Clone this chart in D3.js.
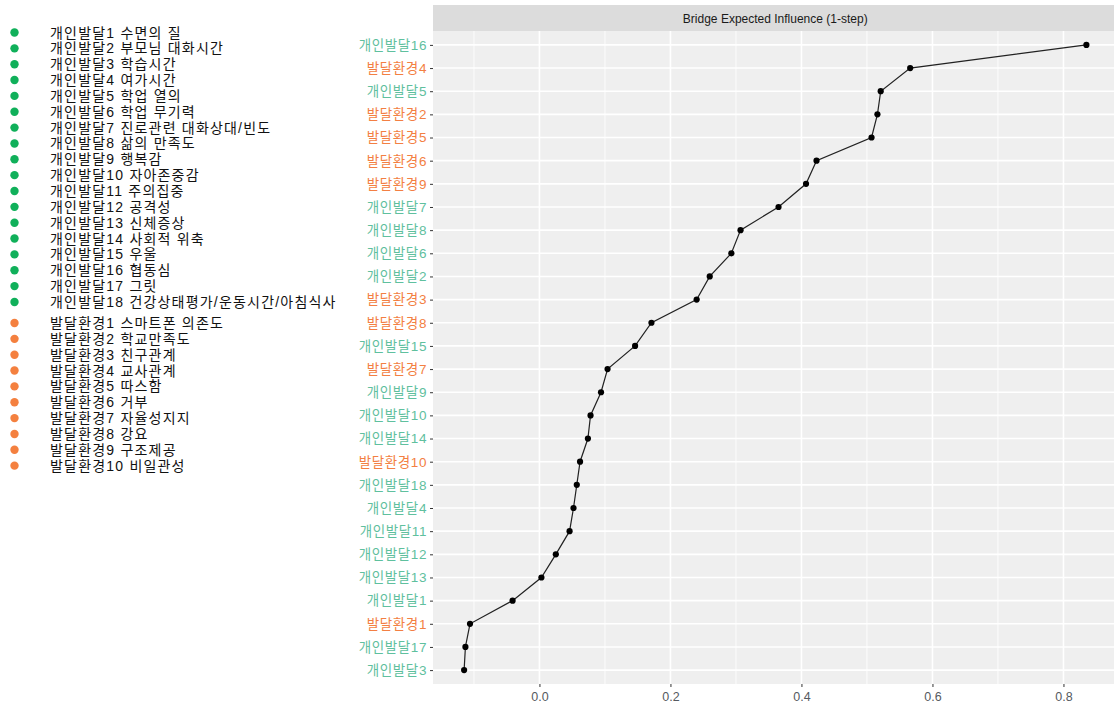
<!DOCTYPE html>
<html>
<head>
<meta charset="utf-8">
<script src="https://cdn.jsdelivr.net/npm/d3@7"></script>
<style>
  html, body { margin: 0; padding: 0; background: #ffffff; }
  svg { display: block; }
</style>
</head>
<body>
<svg id="chart" width="1114" height="709"></svg>
<script>
// Nodes in plotted order (top to bottom), sorted by bridge expected influence
const nodes = [
  "개인발달16", "발달환경4", "개인발달5", "발달환경2", "발달환경5", "발달환경6",
  "발달환경9", "개인발달7", "개인발달8", "개인발달6", "개인발달2", "발달환경3",
  "발달환경8", "개인발달15", "발달환경7", "개인발달9", "개인발달10", "개인발달14",
  "발달환경10", "개인발달18", "개인발달4", "개인발달11", "개인발달12", "개인발달13",
  "개인발달1", "발달환경1", "개인발달17", "개인발달3"
];
const bridgeEI = [
  0.835, 0.566, 0.521, 0.516, 0.507, 0.423,
  0.407, 0.365, 0.307, 0.293, 0.260, 0.240,
  0.171, 0.146, 0.104, 0.094, 0.078, 0.074,
  0.062, 0.057, 0.052, 0.046, 0.025, 0.003,
  -0.041, -0.106, -0.113, -0.115
];
const xTicks = [0.0, 0.2, 0.4, 0.6, 0.8];
const xMinorTicks = [-0.1, 0.1, 0.3, 0.5, 0.7];

// Legend entries for the two node groups
const personalItems = [
  "개인발달1 수면의 질", "개인발달2 부모님 대화시간", "개인발달3 학습시간",
  "개인발달4 여가시간", "개인발달5 학업 열의", "개인발달6 학업 무기력",
  "개인발달7 진로관련 대화상대/빈도", "개인발달8 삶의 만족도", "개인발달9 행복감",
  "개인발달10 자아존중감", "개인발달11 주의집중", "개인발달12 공격성",
  "개인발달13 신체증상", "개인발달14 사회적 위축", "개인발달15 우울",
  "개인발달16 협동심", "개인발달17 그릿", "개인발달18 건강상태평가/운동시간/아침식사"
];
const environmentItems = [
  "발달환경1 스마트폰 의존도", "발달환경2 학교만족도", "발달환경3 친구관계",
  "발달환경4 교사관계", "발달환경5 따스함", "발달환경6 거부",
  "발달환경7 자율성지지", "발달환경8 강요", "발달환경9 구조제공",
  "발달환경10 비일관성"
];
const stripTitle = "Bridge Expected Influence (1-step)";

const svg = d3.select("#chart");
// Latin face first (digits, punctuation), Hangul falls through to Noto CJK
const koFont = "'Liberation Sans', 'Noto Sans CJK KR', sans-serif";
const latinFont = "'Liberation Sans', Arial, sans-serif";

const labelColor = { "개인발달": "#5fc09e", "발달환경": "#f37f43" };
const dotColor = { "개인발달": "#10b05a", "발달환경": "#f4803f" };
const groupOf = name => name.startsWith("개인발달") ? "개인발달" : "발달환경";

// ---- legend ----
const legend = svg.append("g");
const legendRows = [
  ...personalItems.map((t, i) => ({ t, g: "개인발달", y: 32.5 + i * 15.85 })),
  ...environmentItems.map((t, i) => ({ t, g: "발달환경", y: 323 + i * 15.85 }))
];
legend.selectAll("circle").data(legendRows).join("circle")
  .attr("cx", 14.5).attr("cy", d => d.y).attr("r", 4.2)
  .attr("fill", d => dotColor[d.g]);
legend.selectAll("text").data(legendRows).join("text")
  .attr("x", 50).attr("y", d => d.y).attr("dy", "0.36em")
  .attr("font-family", koFont).attr("font-size", 14)
  .attr("letter-spacing", 1.2)
  .attr("fill", "#111").text(d => d.t);

// ---- panel ----
const panel = { left: 433, right: 1117.5, top: 31, bottom: 684 };
const x = d3.scaleLinear().domain([-0.1625, 0.8825]).range([panel.left, panel.right]);
const y = d3.scalePoint().domain(nodes).range([panel.top, panel.bottom]).padding(0.6);

// strip header
svg.append("rect")
  .attr("x", panel.left).attr("y", 5)
  .attr("width", panel.right - panel.left).attr("height", panel.top - 5)
  .attr("fill", "#dcdcdc");
svg.append("text")
  .attr("x", (panel.left + panel.right) / 2).attr("y", 18.5).attr("dy", "0.35em")
  .attr("text-anchor", "middle").attr("font-family", latinFont).attr("font-size", 12)
  .attr("fill", "#1a1a1a").text(stripTitle);

// panel background
svg.append("rect")
  .attr("x", panel.left).attr("y", panel.top)
  .attr("width", panel.right - panel.left).attr("height", panel.bottom - panel.top)
  .attr("fill", "#efefef");

const grid = svg.append("g");
grid.selectAll("line.minor").data(xMinorTicks).join("line").attr("class", "minor")
  .attr("x1", d => x(d)).attr("x2", d => x(d))
  .attr("y1", panel.top).attr("y2", panel.bottom)
  .attr("stroke", "#fbfbfb").attr("stroke-width", 1.1);
grid.selectAll("line.majorx").data(xTicks).join("line").attr("class", "majorx")
  .attr("x1", d => x(d)).attr("x2", d => x(d))
  .attr("y1", panel.top).attr("y2", panel.bottom)
  .attr("stroke", "#ffffff").attr("stroke-width", 1.6);
grid.selectAll("line.majory").data(nodes).join("line").attr("class", "majory")
  .attr("x1", panel.left).attr("x2", panel.right)
  .attr("y1", d => y(d)).attr("y2", d => y(d))
  .attr("stroke", "#ffffff").attr("stroke-width", 1.6);

// line + points
const pts = nodes.map((n, i) => ({ n, v: bridgeEI[i] }));
svg.append("path")
  .datum(pts)
  .attr("d", d3.line().x(d => x(d.v)).y(d => y(d.n)))
  .attr("fill", "none").attr("stroke", "#222222").attr("stroke-width", 1.2);
svg.append("g").selectAll("circle").data(pts).join("circle")
  .attr("cx", d => x(d.v)).attr("cy", d => y(d.n)).attr("r", 3.1)
  .attr("fill", "#000");

// x axis
const xAxis = svg.append("g")
  .attr("transform", `translate(0,${panel.bottom})`)
  .call(d3.axisBottom(x).tickValues(xTicks).tickFormat(d3.format(".1f")).tickSize(3).tickPadding(5));
xAxis.select(".domain").remove();
xAxis.selectAll(".tick line").attr("stroke", "#333333");
xAxis.selectAll(".tick text")
  .attr("font-family", latinFont).attr("font-size", 12.5).attr("fill", "#555a60");

// y axis
const yAxis = svg.append("g")
  .attr("transform", `translate(${panel.left},0)`)
  .call(d3.axisLeft(y).tickSize(3).tickPadding(3));
yAxis.select(".domain").remove();
yAxis.selectAll(".tick line").attr("stroke", "#333333");
yAxis.selectAll(".tick text")
  .attr("font-family", koFont).attr("font-size", 13.5)
  .attr("letter-spacing", 0.6)
  .attr("fill", d => labelColor[groupOf(d)]);
</script>
</body>
</html>
